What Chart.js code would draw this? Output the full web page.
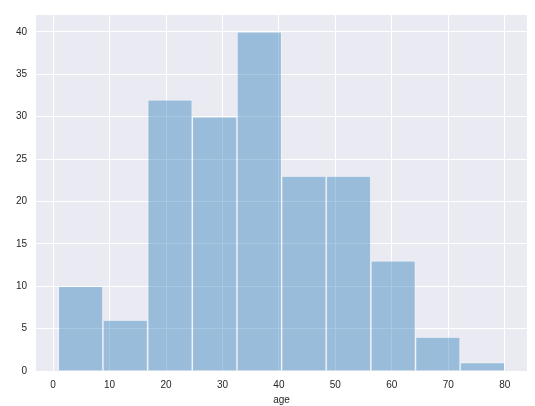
<!DOCTYPE html>
<html>
<head>
<meta charset="utf-8">
<script src="https://cdn.jsdelivr.net/npm/chart.js@4.4.1/dist/chart.umd.min.js"></script>
<style>
  html, body { margin: 0; padding: 0; background: #ffffff; }
  #wrap { width: 535px; height: 406px; }
</style>
</head>
<body>
<div id="wrap"><canvas id="hist"></canvas></div>
<script>
// histogram of age: 10 bins between min and max age
const binEdges = [0.92, 8.83, 16.74, 24.66, 32.57, 40.48, 48.38, 56.29, 64.2, 72.11, 80];
const counts = [10, 6, 32, 30, 40, 23, 23, 13, 4, 1];
const xTicks = [0, 10, 20, 30, 40, 50, 60, 70, 80];
const yTicks = [0, 5, 10, 15, 20, 25, 30, 35, 40];

const points = counts.map((c, i) => ({ x: (binEdges[i] + binEdges[i + 1]) / 2, y: c }));

// grey plot area like seaborn darkgrid
const areaBg = {
  id: 'areaBg',
  beforeDraw(chart) {
    const { ctx, chartArea } = chart;
    ctx.save();
    ctx.fillStyle = '#eaeaf2';
    ctx.fillRect(chartArea.left, chartArea.top, chartArea.right - chartArea.left, chartArea.bottom - chartArea.top);
    ctx.restore();
  }
};

const tickFont = { family: '"Liberation Sans", Arial, sans-serif', size: 10 };

new Chart(document.getElementById('hist'), {
  type: 'bar',
  data: {
    datasets: [{
      label: 'age',
      data: points,
      backgroundColor: 'rgba(31, 119, 180, 0.4)',
      borderColor: 'rgba(255, 255, 255, 0.4)',
      borderWidth: 1,
      barPercentage: 1,
      categoryPercentage: 1,
    }],
  },
  options: {
    responsive: true,
    maintainAspectRatio: false,
    animation: false,
    layout: { padding: { left: 0, top: 15, right: 8, bottom: 0 } },
    plugins: {
      legend: { display: false },
      tooltip: { enabled: false },
    },
    scales: {
      x: {
        type: 'linear',
        min: -3.03,
        max: 83.95,
        offset: false,
        grid: { color: '#ffffff', lineWidth: 1, drawTicks: false, offset: false },
        border: { display: false },
        ticks: { color: '#262626', font: tickFont, padding: 8 },
        afterBuildTicks: (axis) => { axis.ticks = xTicks.map(v => ({ value: v })); },
        afterFit: (axis) => { axis.height = 35; },
        title: { display: true, text: 'age', color: '#262626', font: tickFont, padding: { top: 1, bottom: 0 } },
      },
      y: {
        min: 0,
        max: 42,
        grid: { color: '#ffffff', lineWidth: 1, drawTicks: false },
        border: { display: false },
        ticks: { color: '#262626', font: tickFont, padding: 9 },
        afterBuildTicks: (axis) => { axis.ticks = yTicks.map(v => ({ value: v })); },
        afterFit: (axis) => { axis.width = 36; },
      },
    },
  },
  plugins: [areaBg],
});
</script>
</body>
</html>
